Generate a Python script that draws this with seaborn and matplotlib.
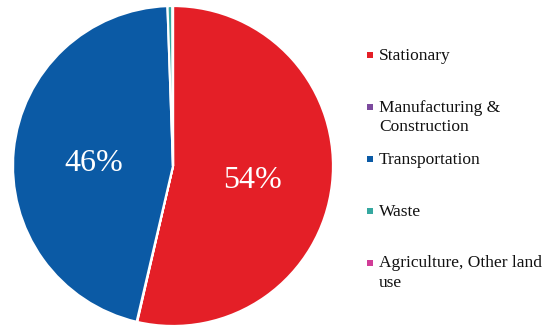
import matplotlib
matplotlib.use("Agg")
import matplotlib.pyplot as plt
import seaborn as sns

# Emission shares by sector (percent)
sectors = ["Stationary", "Manufacturing &\nConstruction", "Transportation",
           "Waste", "Agriculture, Other land\nuse"]
shares = [53.6, 0.05, 45.8, 0.5, 0.05]
colors = ["#E41F27", "#7C4A9E", "#0B5AA5", "#35A8A0", "#D13C97"]

sns.set_theme(style="white")
plt.rcParams["font.family"] = "serif"
plt.rcParams["font.serif"] = ["Liberation Serif", "Times New Roman", "DejaVu Serif"]
SERIF = "Liberation Serif"

W, H = 548, 329
fig = plt.figure(figsize=(W / 100, H / 100), dpi=100)
cx, cy, r = 173, 166, 160
ax = fig.add_axes([(cx - r) / W, (H - cy - r) / H, 2 * r / W, 2 * r / H])

wedges, texts, autotexts = ax.pie(
    shares,
    colors=colors,
    startangle=90,
    counterclock=False,
    autopct=lambda p: f"{p:.0f}%" if p > 5 else "",
    pctdistance=0.5,
    wedgeprops=dict(edgecolor="white", linewidth=1.6),
    textprops=dict(color="white", fontsize=23, family=SERIF),
)
# nudge the percentage labels slightly downward
for t in autotexts:
    x, y = t.get_position()
    t.set_position((x, y - 0.035))
ax.set_xlim(-1.0, 1.0)
ax.set_ylim(-1.0, 1.0)
ax.set_axis_off()

# Legend: square swatch beside the first line of each label
mx, tx = 370, 379
y0, step, line_gap = 55, 51.9, 19.5
for i, (name, col) in enumerate(zip(sectors, colors)):
    y = y0 + i * step
    fig.patches.append(plt.Rectangle(((mx - 3) / W, (H - y - 3) / H), 6 / W, 6 / H,
                                     transform=fig.transFigure, facecolor=col,
                                     edgecolor="none"))
    for k, line in enumerate(name.split("\n")):
        fig.text(tx / W, (H - y - 4.8 - k * line_gap) / H, line,
                 ha="left", va="baseline", fontsize=12.5, color="#111111",
                 family=SERIF, transform=fig.transFigure)

fig.savefig("out.png", dpi=100)
